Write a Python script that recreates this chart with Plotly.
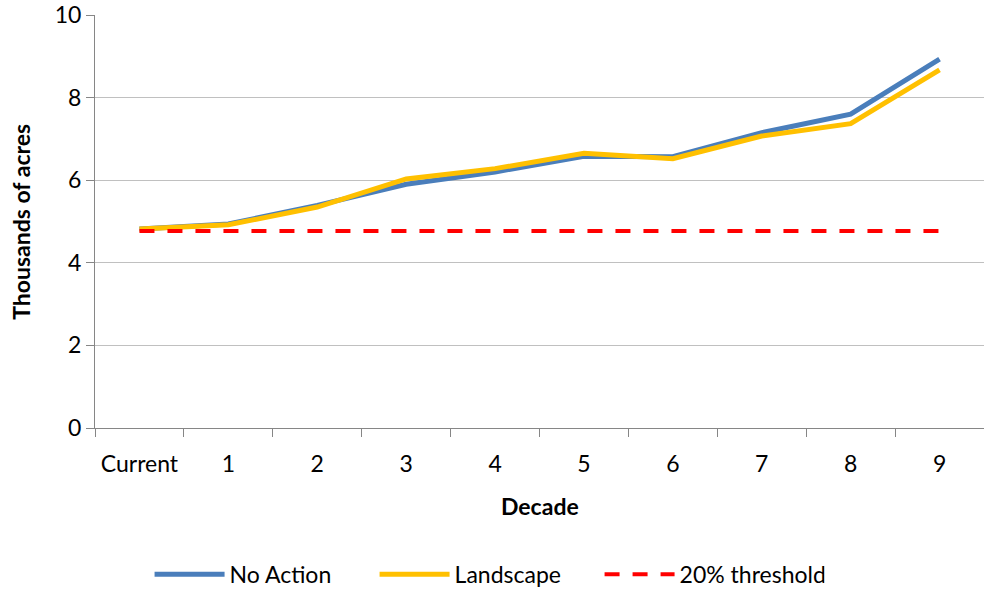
import plotly.graph_objects as go

decades = ["Current", "1", "2", "3", "4", "5", "6", "7", "8", "9"]
no_action = [4.82, 4.94, 5.39, 5.9, 6.2, 6.58, 6.57, 7.15, 7.6, 8.93]
landscape = [4.82, 4.92, 5.35, 6.03, 6.28, 6.65, 6.52, 7.07, 7.37, 8.67]
threshold = [4.77] * len(decades)

font = "Lato, 'Open Sans', sans-serif"

fig = go.Figure()
fig.add_trace(go.Scatter(x=decades, y=no_action, mode="lines", name="No Action",
                         line=dict(color="#4a7ebb", width=5)))
fig.add_trace(go.Scatter(x=decades, y=landscape, mode="lines", name="Landscape",
                         line=dict(color="#ffc000", width=5)))
fig.add_trace(go.Scatter(x=decades, y=threshold, mode="lines", name="20% threshold",
                         line=dict(color="#ff0000", width=4, dash="15px,13px")))

fig.update_layout(
    width=984, height=592,
    margin=dict(l=95, r=0, t=15, b=164),
    plot_bgcolor="white", paper_bgcolor="white",
    font=dict(family=font, size=23, color="black"),
    showlegend=True,
    legend=dict(orientation="h", xref="container", yref="container",
                x=0.152, xanchor="left", y=0.03, yanchor="middle",
                font=dict(size=23), itemwidth=70, entrywidth=140, entrywidthmode="pixels"),
)
fig.update_xaxes(
    type="category", range=[-0.5, 9.5], tickson="boundaries", ticks="outside", ticklen=8,
    tickcolor="#868686", showline=True, linecolor="#868686", linewidth=1,
    ticklabelstandoff=15, automargin=False, showgrid=False,
)
fig.update_yaxes(
    range=[0, 10], dtick=2, ticks="outside", ticklen=8, tickcolor="#868686",
    showline=True, linecolor="#868686", linewidth=1, automargin=False,
    ticklabeloverflow="allow",
    showgrid=True, gridcolor="#c0c0c0", gridwidth=1, zeroline=False,
)

# axis titles
fig.add_annotation(text="<b>Decade</b>", xref="paper", yref="paper", x=0.5, y=-0.19,
                   yanchor="middle", showarrow=False, font=dict(size=23))
fig.add_annotation(text="<b>Thousands of acres</b>", xref="paper", yref="paper",
                   x=-0.084, y=0.5, textangle=-90, xanchor="center", yanchor="middle",
                   showarrow=False, font=dict(size=23))

# drop the default 8px page margin so the figure sits at the window corner
fig.write_html("out.html", config={"displayModeBar": False},
               post_script="document.body.style.margin='0px';")
